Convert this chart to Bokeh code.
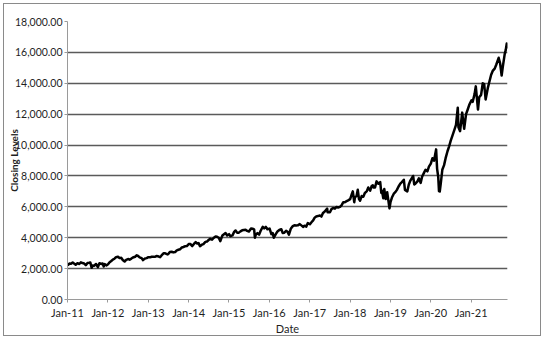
import pandas as pd
from bokeh.plotting import figure
from bokeh.models import FixedTicker, DatetimeTickFormatter, NumeralTickFormatter, Range1d
from bokeh.embed import file_html
from bokeh.resources import INLINE

# ---- data ----
dates = [
    "2011-01-03", "2011-01-18", "2011-02-01", "2011-02-17", "2011-03-01", "2011-03-16", "2011-04-01", "2011-04-18",
    "2011-05-02", "2011-05-16", "2011-06-01", "2011-06-16", "2011-07-01", "2011-07-15", "2011-07-26", "2011-08-08",
    "2011-08-16", "2011-09-01", "2011-09-16", "2011-10-03", "2011-10-17", "2011-11-01", "2011-11-15", "2011-11-25",
    "2011-12-05", "2011-12-19",
    "2012-01-03", "2012-01-17", "2012-02-01", "2012-02-15", "2012-03-01", "2012-03-15", "2012-04-02", "2012-04-16",
    "2012-05-01", "2012-05-15", "2012-06-01", "2012-06-15", "2012-07-02", "2012-07-16", "2012-08-01", "2012-08-15",
    "2012-09-04", "2012-09-19", "2012-10-01", "2012-10-15", "2012-11-01", "2012-11-15", "2012-12-03", "2012-12-17",
    "2013-01-02", "2013-01-16", "2013-02-01", "2013-02-15", "2013-03-01", "2013-03-15", "2013-04-01", "2013-04-18",
    "2013-05-01", "2013-05-21", "2013-06-03", "2013-06-24", "2013-07-01", "2013-07-15", "2013-08-01", "2013-08-15",
    "2013-09-03", "2013-09-16", "2013-10-01", "2013-10-15", "2013-11-01", "2013-11-15", "2013-12-02", "2013-12-16",
    "2014-01-02", "2014-01-16", "2014-02-03", "2014-02-18", "2014-03-06", "2014-03-17", "2014-04-01", "2014-04-14",
    "2014-05-01", "2014-05-15", "2014-06-02", "2014-06-16", "2014-07-01", "2014-07-15", "2014-08-01", "2014-08-15",
    "2014-09-02", "2014-09-16", "2014-10-01", "2014-10-15", "2014-11-03", "2014-11-17", "2014-12-01", "2014-12-16",
    "2015-01-02", "2015-01-15", "2015-02-02", "2015-02-17", "2015-03-02", "2015-03-16", "2015-04-01", "2015-04-15",
    "2015-05-01", "2015-05-15", "2015-06-01", "2015-06-15", "2015-07-01", "2015-07-20", "2015-08-03", "2015-08-17",
    "2015-08-24", "2015-09-01", "2015-09-16", "2015-10-01", "2015-10-15", "2015-11-03", "2015-11-16", "2015-12-01",
    "2015-12-15",
    "2016-01-04", "2016-01-20", "2016-02-01", "2016-02-11", "2016-03-01", "2016-03-15", "2016-04-01", "2016-04-19",
    "2016-05-02", "2016-05-16", "2016-06-01", "2016-06-15", "2016-06-27", "2016-07-15", "2016-08-01", "2016-08-15",
    "2016-09-01", "2016-09-15", "2016-10-03", "2016-10-17", "2016-11-04", "2016-11-15", "2016-12-01", "2016-12-15",
    "2017-01-03", "2017-01-17", "2017-02-01", "2017-02-15", "2017-03-01", "2017-03-15", "2017-04-03", "2017-04-17",
    "2017-05-01", "2017-05-15", "2017-06-08", "2017-06-12", "2017-07-03", "2017-07-17", "2017-08-01", "2017-08-17",
    "2017-09-01", "2017-09-15", "2017-10-02", "2017-10-16", "2017-11-01", "2017-11-15", "2017-12-01", "2017-12-15",
    "2018-01-02", "2018-01-16", "2018-01-26", "2018-02-08", "2018-02-15", "2018-03-01", "2018-03-12", "2018-03-23",
    "2018-04-02", "2018-04-16", "2018-05-01", "2018-05-15", "2018-06-01", "2018-06-15", "2018-07-02", "2018-07-16",
    "2018-07-26", "2018-08-01", "2018-08-15", "2018-08-29", "2018-09-14", "2018-10-01", "2018-10-11", "2018-10-17",
    "2018-10-29", "2018-11-07", "2018-11-20", "2018-12-03", "2018-12-14", "2018-12-24",
    "2019-01-02", "2019-01-15", "2019-02-01", "2019-02-15", "2019-03-01", "2019-03-15", "2019-04-01", "2019-04-15",
    "2019-05-03", "2019-05-13", "2019-06-03", "2019-06-17", "2019-07-01", "2019-07-26", "2019-08-05", "2019-08-15",
    "2019-09-03", "2019-09-16", "2019-10-02", "2019-10-15", "2019-11-01", "2019-11-15", "2019-12-02", "2019-12-16",
    "2020-01-02", "2020-01-17", "2020-01-31", "2020-02-19", "2020-02-28", "2020-03-09", "2020-03-16", "2020-03-23",
    "2020-04-01", "2020-04-15", "2020-05-01", "2020-05-15", "2020-06-01", "2020-06-15", "2020-07-01", "2020-07-15",
    "2020-08-03", "2020-08-17", "2020-09-02", "2020-09-08", "2020-09-23", "2020-10-12", "2020-10-30", "2020-11-16",
    "2020-12-01", "2020-12-15",
    "2021-01-04", "2021-01-15", "2021-02-01", "2021-02-12", "2021-03-04", "2021-03-15", "2021-04-01", "2021-04-16",
    "2021-04-29", "2021-05-12", "2021-06-01", "2021-06-15", "2021-07-01", "2021-07-15", "2021-08-02", "2021-08-16",
    "2021-09-07", "2021-09-20", "2021-10-04", "2021-10-15", "2021-11-01", "2021-11-10", "2021-11-19", "2021-11-26",
]

closes = [
    2200, 2330, 2310, 2400, 2330, 2250, 2350, 2300, 2410, 2360, 2330, 2220, 2360, 2380, 2400, 2050,
    2200, 2190, 2300, 2100, 2350, 2300, 2330, 2140, 2290, 2210,
    2280, 2410, 2490, 2580, 2640, 2740, 2770, 2680, 2700, 2560, 2460, 2560, 2620, 2580, 2650, 2720,
    2770, 2860, 2820, 2730, 2680, 2550, 2660, 2680,
    2740, 2730, 2770, 2770, 2760, 2810, 2800, 2740, 2850, 3000, 2990, 2920, 2940, 3070, 3090, 3050,
    3080, 3180, 3220, 3250, 3370, 3400, 3450, 3460,
    3590, 3600, 3460, 3600, 3720, 3630, 3650, 3450, 3550, 3590, 3730, 3750, 3850, 3930, 3870, 3980,
    4080, 4060, 4000, 3780, 4150, 4230, 4300, 4150,
    4230, 4100, 4150, 4380, 4470, 4330, 4330, 4410, 4480, 4500, 4510, 4440, 4400, 4600, 4580, 4540,
    4000, 4200, 4300, 4200, 4450, 4700, 4600, 4700, 4550,
    4590, 4230, 4300, 4000, 4250, 4400, 4500, 4550, 4300, 4320, 4450, 4380, 4200, 4600, 4750, 4800,
    4790, 4800, 4880, 4800, 4700, 4780, 4720, 4950,
    4870, 5000, 5120, 5300, 5380, 5400, 5440, 5370, 5600, 5680, 5880, 5650, 5650, 5850, 5920, 5880,
    5990, 5960, 6000, 6100, 6300, 6300, 6370, 6420,
    6500, 6800, 7000, 6300, 6650, 6700, 7100, 6500, 6400, 6700, 6650, 6900, 7000, 7250, 7050, 7350,
    7400, 7250, 7250, 7650, 7500, 7600, 6900, 7050, 6550, 7150, 6500, 6950, 6400, 5900,
    6300, 6600, 6850, 6950, 7100, 7300, 7500, 7600, 7750, 7100, 7000, 7450, 7700, 8000, 7450, 7500,
    7650, 7850, 7550, 7950, 8200, 8400, 8300, 8600,
    8800, 9150, 8990, 9720, 8460, 7950, 7020, 6990, 7500, 8400, 8700, 9150, 9600, 9900, 10300, 10600,
    11000, 11300, 12420, 11150, 10900, 12100, 11050, 12000, 12300, 12600,
    12900, 12800, 13300, 13800, 12300, 13100, 13250, 14000, 13950, 12950, 13700, 14100, 14550, 14800, 14950, 15200,
    15650, 15300, 14500, 15100, 15900, 16150, 16570, 16250,
]

tick_years = list(range(2011, 2022))  # "Jan-11" ... "Jan-21"
y_title = "Closing Levels"
x_title = "Date"

df = pd.DataFrame({"date": pd.to_datetime(dates), "close": closes})

FONT = "Lato"
TXT = "#1f1f1f"

p = figure(
    width=538, height=333,
    x_axis_type="datetime",
    output_backend="svg", toolbar_location=None,
    min_border_left=63, min_border_right=35, min_border_top=17, min_border_bottom=38,
    background_fill_color="white", border_fill_color="white",
)
p.styles = {"border": "1px solid #8a8a8a", "margin-left": "3px", "margin-top": "3px"}
p.outline_line_color = None

p.line(df["date"], df["close"], line_color="black", line_width=2.5, line_join="round")

p.x_range = Range1d(pd.Timestamp("2011-01-01"), df["date"].iloc[-1])
p.y_range = Range1d(0, 18000)

ticks = [pd.Timestamp(f"{y}-01-01").value / 1e6 for y in tick_years]
p.xaxis.ticker = FixedTicker(ticks=ticks)
p.xaxis.formatter = DatetimeTickFormatter(days="%b-%y", months="%b-%y", years="%b-%y")
p.yaxis.ticker = FixedTicker(ticks=list(range(0, 18001, 2000)))
p.yaxis.formatter = NumeralTickFormatter(format="0,0.00")

p.xaxis.axis_label = x_title
p.yaxis.axis_label = y_title

for ax in (p.xaxis[0], p.yaxis[0]):
    ax.axis_line_color = "#9a9a9a"
    ax.axis_line_width = 1
    ax.major_tick_line_color = "#9a9a9a"
    ax.major_tick_in = 0
    ax.major_tick_out = 3
    ax.minor_tick_line_color = None
    ax.major_label_text_font = FONT
    ax.major_label_text_font_size = "11px"
    ax.major_label_text_color = TXT
    ax.axis_label_text_font = FONT
    ax.axis_label_text_font_size = "11px"
    ax.axis_label_text_color = TXT

p.xaxis.major_label_standoff = 3
p.xaxis.axis_label_standoff = 0
p.xaxis.axis_label_text_font_style = "normal"
p.yaxis.major_label_text_font_size = "10.5px"
p.yaxis.major_label_standoff = 2
p.yaxis.axis_label_standoff = -8
p.yaxis.axis_label_text_font_size = "10px"
p.yaxis.axis_label_text_font_style = "bold"

p.xgrid.grid_line_color = None
p.ygrid.grid_line_color = "#5a5a5a"
p.ygrid.grid_line_width = 1.6

open("out.html", "w").write(file_html(p, INLINE))
